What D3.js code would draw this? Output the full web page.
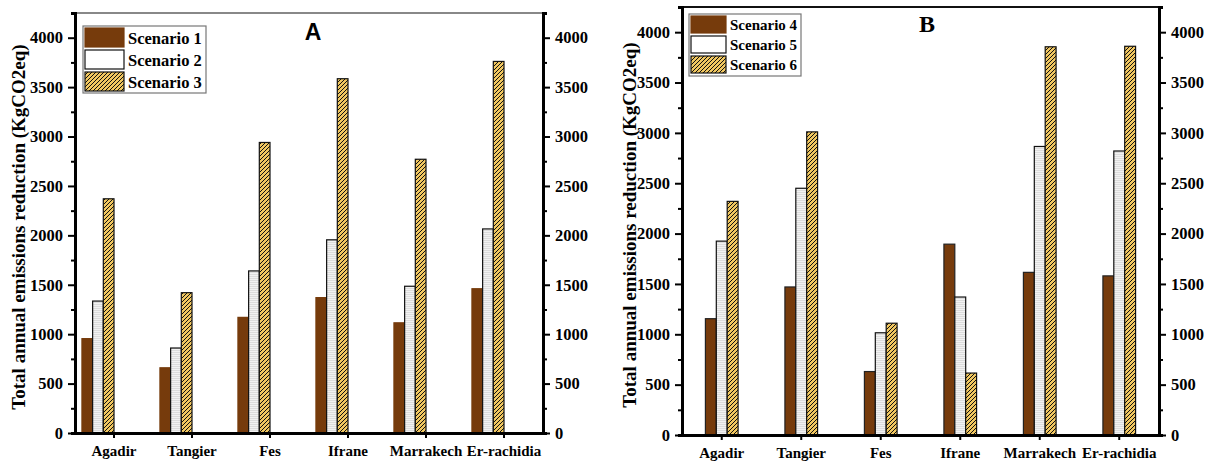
<!DOCTYPE html>
<html>
<head>
<meta charset="utf-8">
<script src="https://cdn.jsdelivr.net/npm/d3@7"></script>
<style>
  body { margin: 0; background: #fff; }
  svg { display: block; }
  text { font-family: "Liberation Serif", "Times New Roman", serif; font-weight: bold; fill: #000; }
</style>
</head>
<body>
<svg id="chart" width="1214" height="466"></svg>
<script>
// data
const cities = ["Agadir", "Tangier", "Fes", "Ifrane", "Marrakech", "Er-rachidia"];
const namesA = ["Scenario 1", "Scenario 2", "Scenario 3"];
const namesB = ["Scenario 4", "Scenario 5", "Scenario 6"];
const scenario1 = [955, 660, 1170, 1370, 1115, 1460];
const scenario2 = [1335, 860, 1640, 1955, 1485, 2065];
const scenario3 = [2370, 1420, 2940, 3585, 2770, 3760];
const scenario4 = [1155, 1470, 630, 1895, 1615, 1580];
const scenario5 = [1925, 2450, 1015, 1370, 2865, 2820];
const scenario6 = [2320, 3010, 1110, 615, 3855, 3860];
const yTicks = [0, 500, 1000, 1500, 2000, 2500, 3000, 3500, 4000];
const yMinor = [250, 750, 1250, 1750, 2250, 2750, 3250, 3750];
const yTitle = "Total annual emissions reduction (KgCO2eq)";

const svg = d3.select("#chart");
const defs = svg.append("defs");

// hatch pattern for scenario 3 / 6
const hatch = defs.append("pattern").attr("id", "hatch")
  .attr("patternUnits", "userSpaceOnUse").attr("width", 4).attr("height", 4);
hatch.append("rect").attr("width", 4).attr("height", 4).attr("fill", "#f1c760");
hatch.append("path").attr("d", "M-1,1 L1,-1 M0,4 L4,0 M3,5 L5,3")
  .attr("stroke", "#111").attr("stroke-width", 1);

// fine light grey texture for scenario 2 / 5
const grey = defs.append("pattern").attr("id", "grey")
  .attr("patternUnits", "userSpaceOnUse").attr("width", 3).attr("height", 2);
grey.append("rect").attr("width", 3).attr("height", 2).attr("fill", "#f2f2f2");
grey.append("rect").attr("width", 3).attr("height", 1).attr("fill", "#dcdcdc");

const brown = "#763b0c";

function drawPanel(p) {
  const x = d3.scaleBand().domain(cities).range([p.left, p.right]).padding(0);
  const y = d3.scaleLinear().domain([0, 4250]).range([p.bottom, p.top]);
  const bw = x.bandwidth() * 0.137;
  const sub = d3.scaleBand().domain(p.names).range([0, 3 * bw]);
  const shift = p.centered ? x.bandwidth() / 2 - 1.5 * bw : x.bandwidth() / 2 - 3 * bw;

  const fills = [brown, "url(#grey)", "url(#hatch)"];
  const strokes = [p.s1Stroke, "#111", "#111"];

  // bars
  p.values.forEach((vals, si) => {
    svg.append("g").selectAll("rect")
      .data(vals)
      .join("rect")
      .attr("x", (d, i) => x(cities[i]) + shift + sub(p.names[si]))
      .attr("y", d => y(d))
      .attr("width", sub.bandwidth())
      .attr("height", d => y(0) - y(d))
      .attr("fill", fills[si])
      .attr("stroke", strokes[si])
      .attr("stroke-width", 1.2);
  });

  // top frame
  svg.append("line")
    .attr("x1", p.left).attr("x2", p.right)
    .attr("y1", p.top).attr("y2", p.top)
    .attr("stroke", p.frame).attr("stroke-width", 2);

  const styleAxis = g => {
    g.select(".domain").attr("stroke", "#000").attr("stroke-width", 3);
    g.selectAll(".tick line").attr("stroke", "#000").attr("stroke-width", 2);
    g.selectAll("text").attr("font-size", "16.5px").attr("font-family", null).attr("fill", "#000");
  };
  const fmt = d3.format("d");

  // minor ticks
  svg.append("g").attr("transform", `translate(${p.left},0)`)
    .call(d3.axisLeft(y).tickValues(yMinor).tickSize(4).tickFormat(""))
    .call(styleAxis);
  svg.append("g").attr("transform", `translate(${p.right},0)`)
    .call(d3.axisRight(y).tickValues(yMinor).tickSize(4).tickFormat(""))
    .call(styleAxis);

  svg.append("g").attr("transform", `translate(${p.left},0)`)
    .call(d3.axisLeft(y).tickValues(yTicks).tickFormat(fmt).tickSize(7).tickSizeOuter(0).tickPadding(5))
    .call(styleAxis);
  svg.append("g").attr("transform", `translate(${p.right},0)`)
    .call(d3.axisRight(y).tickValues(yTicks).tickFormat(fmt).tickSize(7).tickSizeOuter(0).tickPadding(5))
    .call(styleAxis);

  svg.append("g").attr("transform", `translate(0,${p.bottom})`)
    .call(d3.axisBottom(x).tickSize(5).tickSizeOuter(0).tickPadding(7))
    .call(styleAxis)
    .call(g => g.selectAll("text").attr("font-size", "15px"));

  // y title
  svg.append("text")
    .attr("transform", `translate(${p.titleX},${(p.top + p.bottom) / 2 + 4}) rotate(-90)`)
    .attr("text-anchor", "middle")
    .attr("font-size", "19px")
    .text(yTitle);

  // panel letter
  svg.append("text")
    .attr("x", p.letterX).attr("y", p.letterY)
    .attr("text-anchor", "middle")
    .attr("font-size", p.letterSize)
    .style("font-family", p.letterFont)
    .text(p.letter);

  // legend
  const L = p.legend;
  const lg = svg.append("g");
  lg.append("rect")
    .attr("x", L.x).attr("y", L.y).attr("width", L.w).attr("height", L.h)
    .attr("fill", "#fff").attr("stroke", "#777").attr("stroke-width", 1.2);
  const legFills = [brown, "#fff", "url(#hatch)"];
  p.names.forEach((n, i) => {
    lg.append("rect")
      .attr("x", L.x + 2).attr("y", L.y + 2 + i * L.row)
      .attr("width", L.sw).attr("height", L.sh)
      .attr("fill", legFills[i])
      .attr("stroke", i === 0 ? brown : "#111").attr("stroke-width", 1.2);
    lg.append("text")
      .attr("x", L.x + L.sw + 6).attr("y", L.y + 2 + i * L.row + L.sh - 3)
      .attr("font-size", L.font)
      .text(n);
  });
}

drawPanel({
  left: 75, right: 543, top: 13, bottom: 433, centered: false,
  names: namesA, values: [scenario1, scenario2, scenario3],
  s1Stroke: brown, frame: "#888", titleX: 25,
  letter: "A", letterX: 313, letterY: 40, letterSize: "23px",
  letterFont: "'Liberation Sans', Arial, sans-serif",
  legend: { x: 83, y: 26, w: 123, h: 67, sw: 39, sh: 19, row: 22, font: "16.5px" }
});

drawPanel({
  left: 682, right: 1159, top: 7, bottom: 435, centered: true,
  names: namesB, values: [scenario4, scenario5, scenario6],
  s1Stroke: "#222", frame: "#111", titleX: 636,
  letter: "B", letterX: 927, letterY: 32, letterSize: "24px",
  letterFont: "'Liberation Serif', 'Times New Roman', serif",
  legend: { x: 689, y: 14, w: 112, h: 62, sw: 35, sh: 17, row: 20, font: "15px" }
});
</script>
</body>
</html>
